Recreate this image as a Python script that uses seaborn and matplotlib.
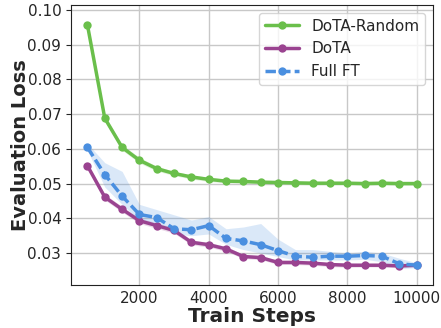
import numpy as np
import pandas as pd
import matplotlib
matplotlib.use("Agg")
import matplotlib.pyplot as plt
import seaborn as sns

# ==========================================
# Data
# ==========================================
steps = [500, 1000, 1500, 2000, 2500, 3000, 3500, 4000, 4500, 5000,
         5500, 6000, 6500, 7000, 7500, 8000, 8500, 9000, 9500, 10000]

dota_random = [0.0956, 0.0688, 0.0604, 0.0567, 0.0543, 0.0529, 0.0519, 0.0512, 0.0507, 0.0506,
               0.0504, 0.0503, 0.0502, 0.0501, 0.0501, 0.0501, 0.0500, 0.0501, 0.0500, 0.0500]
dota = [0.0551, 0.0461, 0.0426, 0.0393, 0.0379, 0.0365, 0.0331, 0.0324, 0.0312, 0.0290,
        0.0287, 0.0273, 0.0273, 0.0271, 0.0267, 0.0265, 0.0265, 0.0265, 0.0263, 0.0265]
full_ft = [0.0604, 0.0526, 0.0464, 0.0411, 0.0402, 0.0370, 0.0367, 0.0379, 0.0342, 0.0335,
           0.0324, 0.0307, 0.0291, 0.0288, 0.0291, 0.0291, 0.0293, 0.0291, 0.0269, 0.0265]

# half-widths of the shaded bands
dota_random_err = [0.0008, 0.0008, 0.0008, 0.0008, 0.0007, 0.0006, 0.0006, 0.0006, 0.0005, 0.0005,
                   0.0005, 0.0005, 0.0005, 0.0005, 0.0005, 0.0005, 0.0005, 0.0005, 0.0005, 0.0005]
dota_err = [0.0006, 0.0008, 0.0008, 0.0008, 0.0008, 0.0008, 0.0007, 0.0007, 0.0007, 0.0006,
            0.0006, 0.0006, 0.0006, 0.0006, 0.0006, 0.0006, 0.0005, 0.0005, 0.0005, 0.0005]
full_ft_lo = [0.0595, 0.0490, 0.0440, 0.0395, 0.0385, 0.0355, 0.0350, 0.0355, 0.0325, 0.0310,
              0.0300, 0.0290, 0.0280, 0.0280, 0.0280, 0.0280, 0.0282, 0.0275, 0.0255, 0.0258]
full_ft_hi = [0.0615, 0.0560, 0.0535, 0.0440, 0.0425, 0.0410, 0.0395, 0.0405, 0.0370, 0.0375,
              0.0385, 0.0340, 0.0310, 0.0310, 0.0305, 0.0300, 0.0305, 0.0300, 0.0285, 0.0272]

labels = ["DoTA-Random", "DoTA", "Full FT"]
colors = ["#6abf4b", "#9a4390", "#4a8fe0"]

# ==========================================
# Plot
# ==========================================
sns.set_style("ticks")
fig, ax = plt.subplots(figsize=(4.41, 3.28), dpi=100)
fig.subplots_adjust(left=0.161, right=0.982, bottom=0.131, top=0.985)

series = [
    (dota_random, np.array(dota_random) - dota_random_err, np.array(dota_random) + dota_random_err),
    (dota, np.array(dota) - dota_err, np.array(dota) + dota_err),
    (full_ft, full_ft_lo, full_ft_hi),
]

for (vals, lo, hi), lab, col in zip(series, labels, colors):
    ax.fill_between(steps, lo, hi, color=col, alpha=0.2, linewidth=0)
    style = (0, (3, 1.2)) if lab == "Full FT" else "-"
    sns.lineplot(x=steps, y=vals, ax=ax, color=col, label=lab, marker="o",
                 markersize=6, markeredgewidth=0, linewidth=2.5, linestyle=style)

ax.set_ylim(0.0208, 0.1014)
ax.set_yticks([0.03, 0.04, 0.05, 0.06, 0.07, 0.08, 0.09, 0.10])
ax.set_xticks([2000, 4000, 6000, 8000, 10000])
ax.grid(True, color="#c8c8c8", linewidth=1)
ax.tick_params(axis="both", labelsize=11)
ax.tick_params(axis="x", length=0, pad=4)
for s in ax.spines.values():
    s.set_color("#222222")

ax.set_xlabel("Train Steps", fontsize=14.5, fontweight="bold", labelpad=1)
ax.set_ylabel("Evaluation Loss", fontsize=14, fontweight="bold", labelpad=-2)
ax.legend(loc="upper right", fontsize=11, handlelength=2.2, borderaxespad=0.5)

plt.savefig("out.png", dpi=100)
